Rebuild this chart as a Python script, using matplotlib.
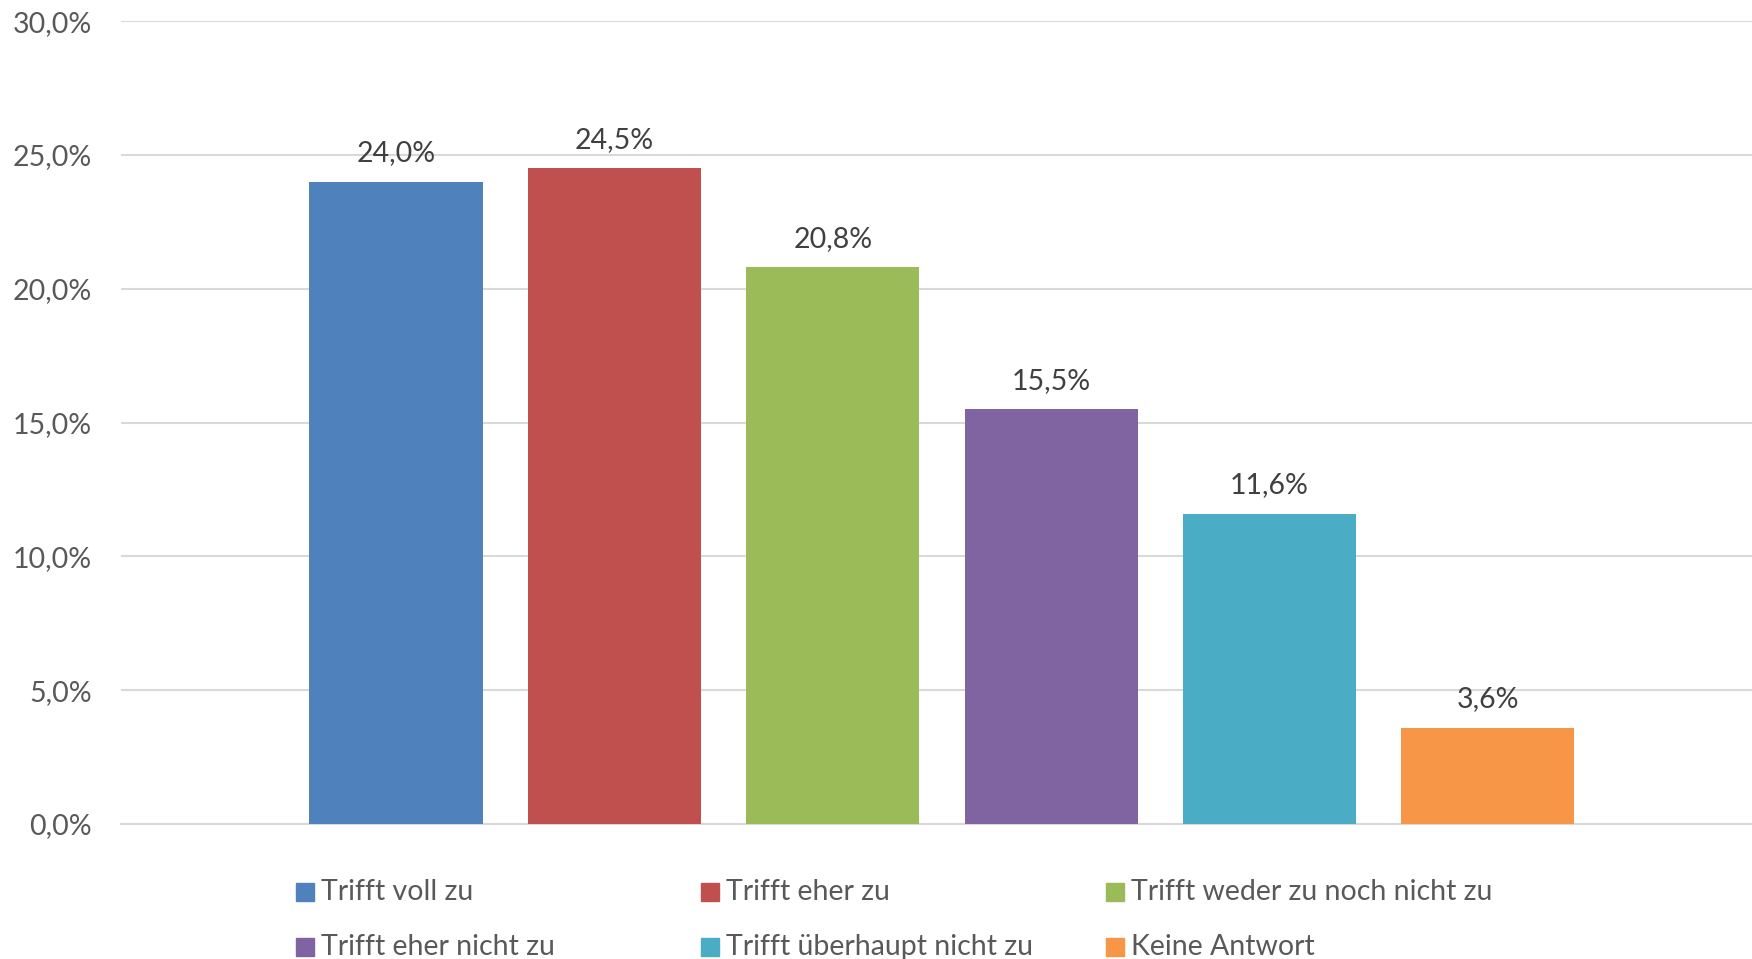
import matplotlib.pyplot as plt
from matplotlib.patches import Rectangle
from matplotlib.ticker import FuncFormatter

# Data
categories = ['Trifft voll zu', 'Trifft eher zu', 'Trifft weder zu noch nicht zu',
              'Trifft eher nicht zu', 'Trifft überhaupt nicht zu', 'Keine Antwort']
values = [24.0, 24.5, 20.8, 15.5, 11.6, 3.6]
colors = ['#4F81BD', '#C0504D', '#9BBB59', '#8064A2', '#4BACC6', '#F79646']
y_ticks = [0, 5, 10, 15, 20, 25, 30]

plt.rcParams['font.family'] = ['Lato', 'DejaVu Sans']

fig = plt.figure(figsize=(17.52, 9.59), dpi=100)
ax = fig.add_axes([0.0689, 0.1408, 0.9311, 0.978 - 0.1408])

x = range(len(categories))
bars = ax.bar(x, values, width=0.793, color=colors, zorder=3)

# data labels above bars
for b, v in zip(bars, values):
    ax.annotate(f'{v:.1f}%'.replace('.', ','),
                (b.get_x() + b.get_width() / 2, b.get_height()),
                xytext=(0, 11), textcoords='offset points',
                ha='center', va='bottom', fontsize=20.5, color='#404040')

ax.set_xlim(-1.261, 6.21)
ax.set_ylim(0, 30)
ax.set_yticks(y_ticks)
ax.yaxis.set_major_formatter(FuncFormatter(lambda v, p: f'{v:.1f}%'.replace('.', ',')))
ax.tick_params(axis='y', length=0, labelsize=20.5, labelcolor='#595959', pad=21)
ax.set_xticks([])
ax.grid(axis='y', color='#D9D9D9', linewidth=1.5, zorder=0)
for s in ['top', 'right', 'left']:
    ax.spines[s].set_visible(False)
ax.spines['bottom'].set_color('#D9D9D9')
ax.spines['bottom'].set_linewidth(1.5)

# legend drawn as a 3x2 grid
sq_w = 18 / 1752
sq_h = 18 / 959
for i, (lab, c) in enumerate(zip(categories, colors)):
    col, row = i % 3, i // 3
    lx = 296 / 1752 + col * 405 / 1752
    ly = 1 - (892 + row * 55) / 959
    fig.patches.append(Rectangle((lx, ly - sq_h / 2), sq_w, sq_h, color=c,
                                 transform=fig.transFigure, figure=fig))
    fig.text(lx + sq_w + 7 / 1752, ly, lab, ha='left', va='center',
             fontsize=20.5, color='#595959')

fig.savefig('out.png', dpi=100)
